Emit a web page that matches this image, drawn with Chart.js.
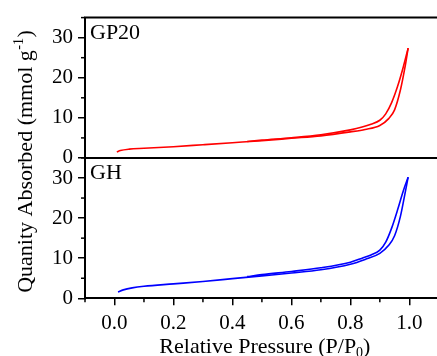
<!DOCTYPE html>
<html><head><meta charset="utf-8">
<script src="https://cdn.jsdelivr.net/npm/chart.js@4/dist/chart.umd.min.js"></script>
<style>
html,body{margin:0;padding:0;background:#fff;overflow:hidden}
#wrap{width:437px;height:356px;overflow:hidden;position:relative;background:#fff}
canvas{display:block}
</style></head>
<body><div id="wrap"><canvas id="c" width="445" height="356" style="width:445px;height:356px"></canvas></div>
<script>
// ---- data ----
const xTicks = [0.0, 0.2, 0.4, 0.6, 0.8, 1.0];
const xTickLabels = ['0.0', '0.2', '0.4', '0.6', '0.8', '1.0'];
const xMinorTicks = [-0.1, 0.1, 0.3, 0.5, 0.7, 0.9, 1.1];
const yTicks = [0, 10, 20, 30];
const yTickLabels = ['0', '10', '20', '30'];
const yMinorTicks = [5, 15, 25, 35];
const panelNames = ['GP20', 'GH'];

// GP20 (top panel)
const gp20AdsP = [0.008, 0.02, 0.05, 0.1, 0.2, 0.3, 0.4, 0.5, 0.6, 0.7, 0.8, 0.85, 0.9, 0.93, 0.95, 0.97, 0.985, 0.996];
const gp20AdsV = [1.5, 1.85, 2.2, 2.4, 2.8, 3.3, 3.8, 4.3, 4.9, 5.5, 6.5, 7.1, 8.1, 9.8, 12.0, 17.0, 22.5, 27.4];
const gp20DesP = [0.45, 0.5, 0.6, 0.7, 0.8, 0.84, 0.87, 0.9, 0.92, 0.94, 0.96, 0.98, 0.996];
const gp20DesV = [4.1, 4.45, 5.05, 5.8, 7.0, 7.7, 8.4, 9.4, 11.0, 13.8, 17.8, 22.8, 27.4];

// GH (bottom panel)
const ghAdsP = [0.012, 0.03, 0.06, 0.1, 0.2, 0.3, 0.4, 0.5, 0.6, 0.7, 0.8, 0.85, 0.9, 0.93, 0.95, 0.97, 0.985, 0.996];
const ghAdsV = [1.6, 2.1, 2.6, 3.0, 3.6, 4.2, 4.9, 5.6, 6.3, 7.1, 8.5, 9.7, 11.2, 13.2, 15.6, 20.5, 26.0, 30.2];
const ghDesP = [0.45, 0.5, 0.6, 0.7, 0.8, 0.84, 0.87, 0.9, 0.92, 0.94, 0.96, 0.98, 0.996];
const ghDesV = [5.4, 5.9, 6.7, 7.6, 9.0, 10.0, 10.8, 12.0, 14.0, 17.5, 22.0, 26.9, 30.2];

const pts = (xs, ys) => xs.map((x, i) => ({x: x, y: ys[i]}));
const FONT = '"Liberation Serif", "Times New Roman", serif';
const RED = '#ff0000', BLUE = '#0000ff';

function ds(label, xs, ys, color, axis) {
  return {label: label, data: pts(xs, ys), yAxisID: axis, borderColor: color, backgroundColor: color,
    showLine: true, pointRadius: 0, borderWidth: 1.6, cubicInterpolationMode: 'monotone', fill: false};
}

function yScale() {
  return {
    type: 'linear', position: 'left', stack: 'panels', stackWeight: 1, min: 0, max: 35,
    afterBuildTicks: (s) => { s.ticks = yTicks.map(v => ({value: v})); },
    afterFit: (s) => { s.width = 85; },
    ticks: {font: {family: FONT, size: 21}, color: '#000', padding: 5,
      callback: (v, i) => yTickLabels[i]},
    grid: {drawOnChartArea: false, drawTicks: true, tickLength: 7, color: '#000', lineWidth: 1.5},
    border: {display: true, color: '#000', width: 2}
  };
}

const framePlugin = {
  id: 'frame',
  afterDraw(chart) {
    const {ctx, chartArea: a, scales} = chart;
    const xs = scales.x, yt = scales.yTop, yb = scales.yBot;
    const line = (x1, y1, x2, y2) => { ctx.beginPath(); ctx.moveTo(x1, y1); ctx.lineTo(x2, y2); ctx.stroke(); };
    ctx.save();
    ctx.strokeStyle = '#000';
    ctx.lineWidth = 2;
    const yTopEdge = yt.getPixelForValue(35);
    const yDiv = yt.getPixelForValue(0);
    line(a.left - 1, yTopEdge, a.right, yTopEdge);
    line(a.left - 1, yDiv, a.right, yDiv);
    line(a.right, a.top, a.right, a.bottom);
    ctx.lineWidth = 1.5;
    xMinorTicks.forEach(v => { const px = xs.getPixelForValue(v); line(px, a.bottom, px, a.bottom + 4); });
    [yt, yb].forEach(s => yMinorTicks.forEach(v => { const py = s.getPixelForValue(v); line(a.left - 4, py, a.left, py); }));

    ctx.fillStyle = '#000';
    ctx.textAlign = 'left';
    ctx.textBaseline = 'alphabetic';
    ctx.font = '22px ' + FONT;
    ctx.fillText(panelNames[0], a.left + 5, yTopEdge + 21);
    ctx.fillText(panelNames[1], a.left + 5, yb.getPixelForValue(35) + 21.5);

    // x title with subscript
    const big = '22px ' + FONT, small = '14px ' + FONT;
    const xt1 = 'Relative Pressure (P/P', xt2 = '0', xt3 = ')';
    ctx.font = big; const w1 = ctx.measureText(xt1).width, w3 = ctx.measureText(xt3).width;
    ctx.font = small; const w2 = ctx.measureText(xt2).width;
    let x0 = (a.left + a.right) / 2 + 3 - (w1 + w2 + w3) / 2;
    const by = 353;
    ctx.font = big; ctx.fillText(xt1, x0, by); x0 += w1;
    ctx.font = small; ctx.fillText(xt2, x0, by + 4); x0 += w2;
    ctx.font = big; ctx.fillText(xt3, x0, by);

    // y title with superscript (rotated)
    const yt1 = 'Quanity Absorbed (mmol g', yt2 = '-1', yt3 = ')';
    ctx.font = big; const v1 = ctx.measureText(yt1).width, v3 = ctx.measureText(yt3).width;
    ctx.font = small; const v2 = ctx.measureText(yt2).width;
    ctx.translate(31.5, 161.5);
    ctx.rotate(-Math.PI / 2);
    let t0 = -(v1 + v2 + v3 + 1) / 2;
    ctx.font = big; ctx.fillText(yt1, t0, 0); t0 += v1 + 0.5;
    ctx.font = small; ctx.fillText(yt2, t0, -9); t0 += v2 + 0.5;
    ctx.font = big; ctx.fillText(yt3, t0, 0);
    ctx.restore();
  }
};

new Chart(document.getElementById('c'), {
  type: 'scatter',
  data: {datasets: [
    ds('GP20 adsorption', gp20AdsP, gp20AdsV, RED, 'yTop'),
    ds('GP20 desorption', gp20DesP, gp20DesV, RED, 'yTop'),
    ds('GH adsorption', ghAdsP, ghAdsV, BLUE, 'yBot'),
    ds('GH desorption', ghDesP, ghDesV, BLUE, 'yBot')
  ]},
  options: {
    responsive: false, animation: false, devicePixelRatio: 1,
    layout: {padding: {top: 14, right: 6.2, left: 0, bottom: 0}},
    plugins: {legend: {display: false}, tooltip: {enabled: false}, title: {display: false}},
    scales: {
      x: {
        type: 'linear', position: 'bottom', min: -0.1, max: 1.1,
        afterBuildTicks: (s) => { s.ticks = xTicks.map(v => ({value: v})); },
        afterFit: (s) => { s.height = 57.7; },
        ticks: {font: {family: FONT, size: 21}, color: '#000', padding: 6, maxRotation: 0,
          callback: (v, i) => xTickLabels[i]},
        grid: {drawOnChartArea: false, drawTicks: true, tickLength: 7, color: '#000', lineWidth: 1.5},
        border: {display: true, color: '#000', width: 2}
      },
      yBot: yScale(),
      yTop: yScale()
    }
  },
  plugins: [framePlugin]
});
</script>
</body></html>
